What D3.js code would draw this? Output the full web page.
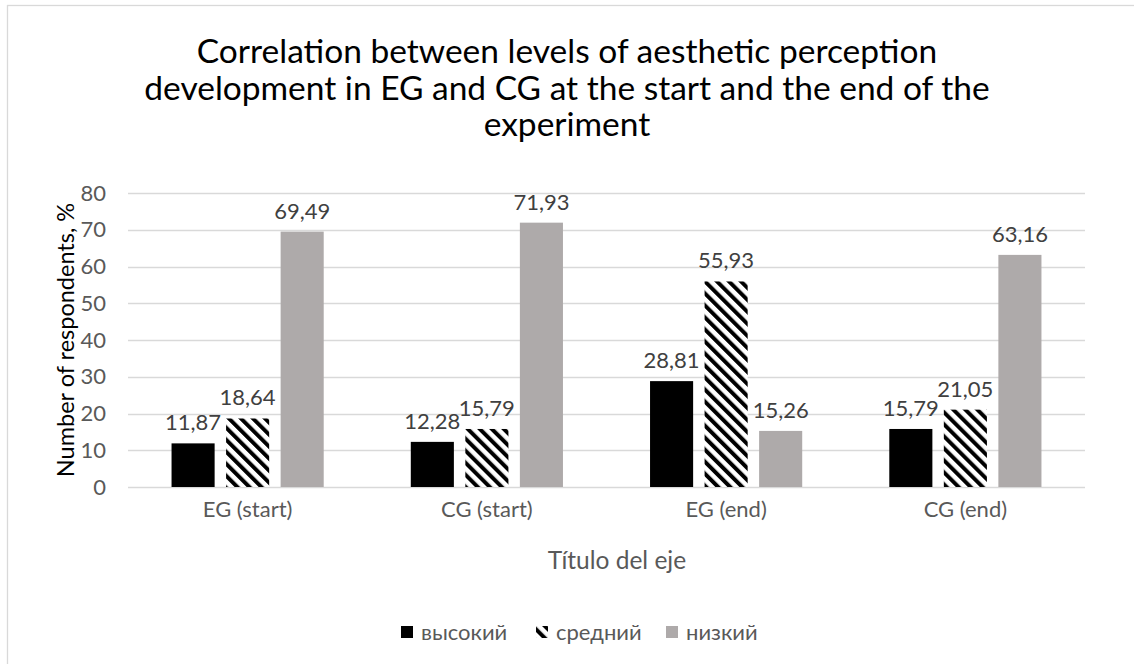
<!DOCTYPE html>
<html>
<head>
<meta charset="utf-8">
<script src="https://cdn.jsdelivr.net/npm/d3@7"></script>
<style>
  body { margin: 0; background: #fff; }
  svg text { font-family: Lato, "Open Sans", sans-serif; }
</style>
</head>
<body>
<svg id="chart" width="1134" height="664"></svg>
<script>
// chart data
let categories = ['EG (start)', 'CG (start)', 'EG (end)', 'CG (end)']
let seriesNames = ['высокий', 'средний', 'низкий']
let highValues = [11.87, 12.28, 28.81, 15.79]
let middleValues = [18.64, 15.79, 55.93, 21.05]
let lowValues = [69.49, 71.93, 15.26, 63.16]
let yTicks = [0, 10, 20, 30, 40, 50, 60, 70, 80]
let titleLines = [
  'Correlation between levels of aesthetic perception',
  'development in EG and CG at the start and the end of the',
  'experiment'
]
let yTitle = 'Number of respondents, %'
let xTitle = 'Título del eje'

let seriesValues = [highValues, middleValues, lowValues]
let fills = ['#000000', 'url(#hatch)', '#aeaaaa']

const W = 1134
const H = 664
const margin = { top: 193, right: 49, bottom: 177, left: 128 }

let svg = d3.select('#chart')

// diagonal stripes, like Excel's "wide downward diagonal"
let defs = svg.append('defs')
let pat = defs.append('pattern')
  .attr('id', 'hatch')
  .attr('patternUnits', 'userSpaceOnUse')
  .attr('width', 8.5)
  .attr('height', 8.5)
  .attr('patternTransform', 'rotate(-45)')
pat.append('rect').attr('width', 8.5).attr('height', 8.5).attr('fill', '#fff')
pat.append('rect').attr('width', 4).attr('height', 8.5).attr('fill', '#000')

// outer chart border
svg.append('rect')
  .attr('x', 7.5).attr('y', 5.5)
  .attr('width', W + 20).attr('height', H + 20)
  .attr('fill', 'none')
  .attr('stroke', '#d9d9d9')
  .attr('stroke-width', 1.3)

let x0 = d3.scaleBand()
  .domain(categories)
  .range([margin.left, W - margin.right])
  .paddingInner(0.364)
  .paddingOuter(0.182)

let x1 = d3.scaleBand()
  .domain(d3.range(seriesNames.length))
  .range([0, x0.bandwidth()])
  .paddingInner(0.21)

let y = d3.scaleLinear()
  .domain([0, 80])
  .range([H - margin.bottom, margin.top])

// gridlines
svg.append('g')
  .selectAll('line')
  .data(yTicks)
  .join('line')
  .attr('x1', margin.left)
  .attr('x2', W - margin.right)
  .attr('y1', d => Math.round(y(d)) + 0.5)
  .attr('y2', d => Math.round(y(d)) + 0.5)
  .attr('stroke', '#d9d9d9')
  .attr('stroke-width', 1.3)

// y axis labels
let yAxis = svg.append('g')
  .attr('transform', `translate(${margin.left - 12},0)`)
  .call(d3.axisLeft(y).tickValues(yTicks).tickSize(0).tickPadding(10))
yAxis.select('.domain').remove()
yAxis.selectAll('text')
  .attr('fill', '#595959')
  .style('font-size', '22px')
  .style('font-family', 'Lato, sans-serif')

// x axis labels
let xAxis = svg.append('g')
  .attr('transform', `translate(0,${H - margin.bottom})`)
  .call(d3.axisBottom(x0).tickSize(0).tickPadding(14))
xAxis.select('.domain').remove()
xAxis.selectAll('text')
  .attr('fill', '#595959')
  .style('font-size', '22px')
  .style('font-family', 'Lato, sans-serif')

// bars
let rows = []
categories.forEach((c, i) => {
  seriesValues.forEach((vals, s) => rows.push({ cat: c, s: s, v: vals[i] }))
})

let bars = svg.append('g')
bars.selectAll('rect')
  .data(rows)
  .join('rect')
  .attr('x', d => x0(d.cat) + x1(d.s))
  .attr('y', d => y(d.v))
  .attr('width', x1.bandwidth())
  .attr('height', d => y(0) - y(d.v))
  .attr('fill', d => fills[d.s])

// value labels
svg.append('g')
  .selectAll('text')
  .data(rows)
  .join('text')
  .attr('x', d => x0(d.cat) + x1(d.s) + x1.bandwidth() / 2)
  .attr('y', d => y(d.v) - 13)
  .attr('text-anchor', 'middle')
  .attr('fill', '#404040')
  .style('font-size', '22px')
  .text(d => d.v.toFixed(2).replace('.', ','))

// title
svg.append('text')
  .attr('text-anchor', 'middle')
  .attr('fill', '#000')
  .style('font-size', '33.5px')
  .selectAll('tspan')
  .data(titleLines)
  .join('tspan')
  .attr('x', W / 2)
  .attr('y', (d, i) => 63 + i * 36.5)
  .text(d => d)

// axis titles
svg.append('text')
  .attr('transform', `translate(74,${(y(0) + y(80)) / 2}) rotate(-90)`)
  .attr('text-anchor', 'middle')
  .attr('fill', '#000')
  .style('font-size', '23.5px')
  .text(yTitle)

svg.append('text')
  .attr('x', 617)
  .attr('y', 569)
  .attr('text-anchor', 'middle')
  .attr('fill', '#595959')
  .style('font-size', '24.5px')
  .text(xTitle)

// legend
let legend = svg.append('g').attr('transform', 'translate(0,632)')
let legendX = [401, 536, 666]
let items = legend.selectAll('g')
  .data(seriesNames)
  .join('g')
  .attr('transform', (d, i) => `translate(${legendX[i]},0)`)
items.append('rect')
  .attr('x', 0).attr('y', -6)
  .attr('width', 12).attr('height', 12)
  .attr('fill', (d, i) => fills[i])
items.append('text')
  .attr('x', 20)
  .attr('y', 7.5)
  .attr('fill', '#595959')
  .style('font-size', '22px')
  .text(d => d)
</script>
</body>
</html>
